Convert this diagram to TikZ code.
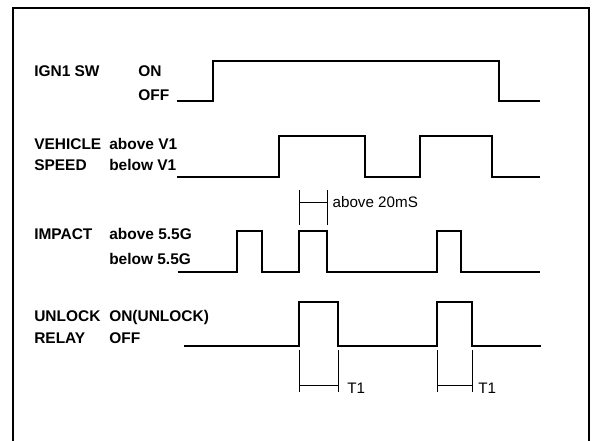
\documentclass[tikz,border=0pt]{standalone}
\usepackage{fontspec}
\setmainfont{Liberation Sans}
\usetikzlibrary{positioning}
\tikzset{
  sigline/.style={line width=2pt, line join=miter},
  dimline/.style={line width=0.7pt},
  framebox/.style={line width=2pt},
  siglabel/.style={anchor=base west, inner sep=0pt, font=\fontsize{11.6}{13}\selectfont\bfseries},
  dimlabel/.style={anchor=base west, inner sep=0pt, font=\fontsize{11.4}{13}\selectfont},
}

\begin{document}
\begin{tikzpicture}[x=0.75pt, y=-0.75pt]
    \useasboundingbox (0,0) rectangle (598,441);
    \draw[framebox] (13,441) -- (13,8) -- (589,8) -- (589,441);

    % signal names and levels
    \node[siglabel] (ign) at (34,77) {IGN1 SW};
    \node[siglabel] (ignon) at (138,77) {ON};
    \node[siglabel] (ignoff) at (138,101) {OFF};
    \node[siglabel] (veh) at (34,150) {VEHICLE};
    \node[siglabel] (spd) at (34,171) {SPEED};
    \node[siglabel] (spdhi) at (109,150) {above V1};
    \node[siglabel] (spdlo) at (109,171) {below V1};
    \node[siglabel] (imp) at (34,239) {IMPACT};
    \node[siglabel] (imphi) at (109,239) {above 5.5G};
    \node[siglabel] (implo) at (109,264) {below 5.5G};
    \node[siglabel] (unl) at (34,321) {UNLOCK};
    \node[siglabel] (rly) at (34,343) {RELAY};
    \node[siglabel] (rlyon) at (109,321) {ON(UNLOCK)};
    \node[siglabel] (rlyoff) at (109,343) {OFF};

    % waveforms
    \draw[sigline] (177,101) -- (213,101) -- (213,61) -- (499,61) -- (499,101) -- (540,101);
    \draw[sigline] (177,177) -- (279,177) -- (279,136) -- (365,136) -- (365,177)
      -- (420,177) -- (420,136) -- (492,136) -- (492,177) -- (540,177);
    \draw[sigline] (178,272) -- (237,272) -- (237,231) -- (262,231) -- (262,272)
      -- (299,272) -- (299,231) -- (327,231) -- (327,272)
      -- (437,272) -- (437,231) -- (461,231) -- (461,272) -- (540,272);
    \draw[sigline] (184,346) -- (299,346) -- (299,302) -- (338,302) -- (338,346)
      -- (437,346) -- (437,302) -- (472,302) -- (472,346) -- (541,346);

    % timing brackets
    \coordinate (wa) at (299,202);
    \coordinate (wb) at (327,202);
    \draw[dimline] (299,190) -- (299,225);
    \draw[dimline] (327,190) -- (327,225);
    \draw[dimline] (wa) -- (wb);
    \node[dimlabel, right=4pt of wb, anchor=west] (wtxt) {above 20mS};

    \coordinate (ta) at (299,385);
    \coordinate (tb) at (338,385);
    \draw[dimline] (299,350) -- (299,392);
    \draw[dimline] (338,350) -- (338,392);
    \draw[dimline] (ta) -- (tb);
    \node[dimlabel] (tone) at (347,393) {T1};

    \coordinate (tc) at (437,385);
    \coordinate (td) at (472,385);
    \draw[dimline] (437,350) -- (437,392);
    \draw[dimline] (472,350) -- (472,392);
    \draw[dimline] (tc) -- (td);
    \node[dimlabel] (ttwo) at (478,393) {T1};
  \end{tikzpicture}
\end{document}
